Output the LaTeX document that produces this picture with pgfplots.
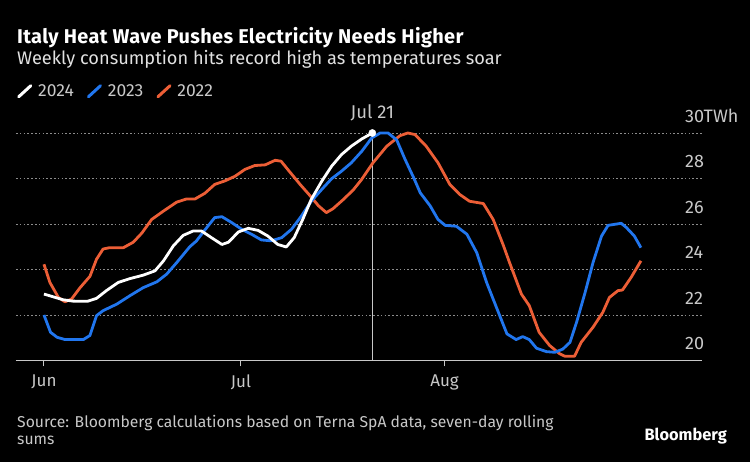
\documentclass[border=0pt]{standalone}
\usepackage{fontspec}
\setmainfont{Fira Sans}
\newfontfamily\titlefont{Fira Sans}[LetterSpace=1.9]
\usepackage{pgfplots}
\pgfplotsset{compat=1.18}

\definecolor{bbblue}{RGB}{33,118,238}
\definecolor{bborange}{RGB}{236,94,54}
\definecolor{subgray}{RGB}{225,225,225}
\definecolor{lblgray}{RGB}{200,200,200}
\definecolor{gridgray}{RGB}{140,140,140}

% days counted from Jun 1 (Jul 1 = 30, Aug 1 = 61)
\pgfplotstableread{
d v
0 24.23
0.9 23.43
2.2 22.77
3.2 22.58
4.2 22.7
5.5 23.2
7 23.7
8 24.45
9 24.9
10 24.96
12.1 24.96
13.6 25.2
14.9 25.6
16.4 26.2
18.2 26.57
20.2 26.96
21.7 27.1
23 27.1
24.5 27.35
26 27.74
27.6 27.9
29.1 28.1
30.6 28.4
32.1 28.57
33.7 28.6
35.2 28.8
36.1 28.76
37.4 28.3
39 27.74
40.5 27.25
41.8 26.8
43 26.5
44 26.67
45.6 27.08
47.1 27.5
48.3 27.93
50.1 28.69
52.2 29.42
54.2 29.88
55.4 30.0
56.5 29.93
58.2 29.42
60 28.69
61.8 27.74
63.3 27.3
64.8 27.0
66.9 26.9
68.4 26.2
69.9 25.1
70.9 24.3
72.7 22.92
73.9 22.41
75.4 21.24
77 20.66
78.5 20.3
79.3 20.19
80.8 20.19
81.8 20.8
83.6 21.46
85.1 22.12
86.1 22.77
87.4 23.07
88.1 23.1
89.4 23.65
90.9 24.38
}\yrtwo

\pgfplotstableread{
d v
0 22.0
1 21.24
2 21.02
3.2 20.92
6 20.92
7 21.1
8 21.97
9 22.19
11.1 22.48
13.1 22.85
15.1 23.2
17.2 23.46
18.7 23.8
20.2 24.3
22.2 25.0
23.2 25.25
24.4 25.7
26 26.28
27.1 26.32
28.6 26.06
30.1 25.77
31.6 25.55
33.1 25.3
34.6 25.26
36.2 25.4
37.7 25.77
39.2 26.35
40.7 27.0
42.3 27.52
43.8 27.99
45.3 28.32
46.8 28.69
48.4 29.2
49.9 29.78
51.2 30.0
52.4 30.0
53.7 29.7
55 28.83
56.3 28.03
57.3 27.37
58.8 26.8
60 26.2
61.1 25.94
62.8 25.9
64.4 25.55
65.9 24.74
67.4 23.43
69 22.26
70.5 21.17
71.9 20.92
72.9 21.05
73.9 20.92
75 20.54
76.5 20.39
77.8 20.36
79 20.5
80.1 20.8
81.1 21.68
82.4 22.99
83.6 24.3
84.9 25.47
85.9 25.94
87.9 26.03
88.7 25.84
89.9 25.47
90.9 24.96
}\yrthree

\pgfplotstableread{
d v
0 22.92
1.4 22.8
2.9 22.67
4.4 22.61
6.6 22.6
8 22.73
9.5 23.07
11.3 23.43
13.1 23.6
15.1 23.75
16.9 23.94
18.2 24.38
19.7 25.04
21.2 25.5
22.7 25.69
24 25.69
25.5 25.4
27.1 25.1
28.1 25.2
29.6 25.65
31.1 25.81
32.6 25.72
34.1 25.47
35.6 25.1
36.9 24.99
38.1 25.4
39.4 26.2
40.7 27.08
42.3 27.88
43.8 28.54
45.3 29.05
46.8 29.42
48.4 29.74
50 30.0
}\yrfour

\begin{document}
\begin{tikzpicture}[x=1pt,y=1pt]
\fill[black] (0,0) rectangle (750,462);

\node[anchor=base west, inner sep=0pt, text=white, font=\titlefont\fontsize{19.9}{22}\selectfont\bfseries] at (17,418.7) {Italy Heat Wave Pushes Electricity Needs Higher};
\node[anchor=base west, inner sep=0pt, text=subgray, font=\fontsize{18.2}{20}\selectfont] at (17,397) {Weekly consumption hits record high as temperatures soar};

\begin{axis}[
  at={(16pt,101.5pt)}, anchor=south west,
  scale only axis, width=686pt, height=227.5pt,
  xmin=-4.26, xmax=100.2, ymin=20, ymax=30,
  clip=false,
  axis x line*=bottom, axis y line*=right,
  x axis line style={-, lblgray, line width=1pt},
  y axis line style={draw=none},
  xtick={0,30,61}, xticklabels={Jun,Jul,Aug},
  xtick style={lblgray, line width=1pt},
  tick align=outside, major tick length=6pt,
  xticklabel style={text=lblgray, font=\fontsize{17}{19}\selectfont, yshift=-4.5pt},
  ytick={20,22,24,26,28,30}, yticklabels={20,22,24,26,28,30TWh},
  ytick style={draw=none},
  yticklabel style={anchor=base west, inner sep=0pt, xshift=-23pt, yshift=10.5pt,
    text=lblgray, font=\fontsize{18}{20}\selectfont},
  ymajorgrids, grid style={gridgray, line width=0.9pt, dash pattern=on 1.6pt off 2.2pt},
  legend columns=3,
  legend style={at={(0.0015,1.183)}, anchor=west, draw=none, fill=none,
    text=lblgray, font=\fontsize{17.5}{19}\selectfont, inner sep=0pt,
    nodes={inner sep=0pt},
    /tikz/every odd column/.append style={column sep=6pt},
    /tikz/every even column/.append style={column sep=13pt}},
  legend image code/.code={\draw[#1, line width=3pt, line cap=round] (1.5pt,-5pt) -- (13.5pt,6pt);},
]
\addlegendimage{white}
\addlegendentry{2024}
\addlegendimage{bbblue}
\addlegendentry{2023}
\addlegendimage{bborange}
\addlegendentry{2022}

\draw[lblgray, line width=1pt] (axis cs:50,20) -- (axis cs:50,30);
\node[anchor=base, text=lblgray, font=\fontsize{18.5}{20}\selectfont, inner sep=0pt] at ([yshift=14pt]axis cs:50,30) {Jul 21};

\addplot[bborange, line width=2.8pt, line join=round, forget plot] table[x=d, y=v] {\yrtwo};
\addplot[bbblue, line width=2.8pt, line join=round, forget plot] table[x=d, y=v] {\yrthree};
\addplot[white, line width=2.8pt, line join=round, forget plot] table[x=d, y=v] {\yrfour};
\addplot[only marks, mark=*, mark size=3.6pt, white, forget plot] coordinates {(50,30.0)};
\end{axis}

\node[anchor=base west, inner sep=0pt, align=left, text=lblgray, font=\fontsize{15.7}{17}\selectfont] at (17,17) {Source: Bloomberg calculations based on Terna SpA data, seven-day rolling\\sums};
\node[anchor=base east, inner sep=0pt, text=white, font=\fontsize{16.4}{18}\selectfont\bfseries] at (727,21) {Bloomberg};
\end{tikzpicture}
\end{document}
